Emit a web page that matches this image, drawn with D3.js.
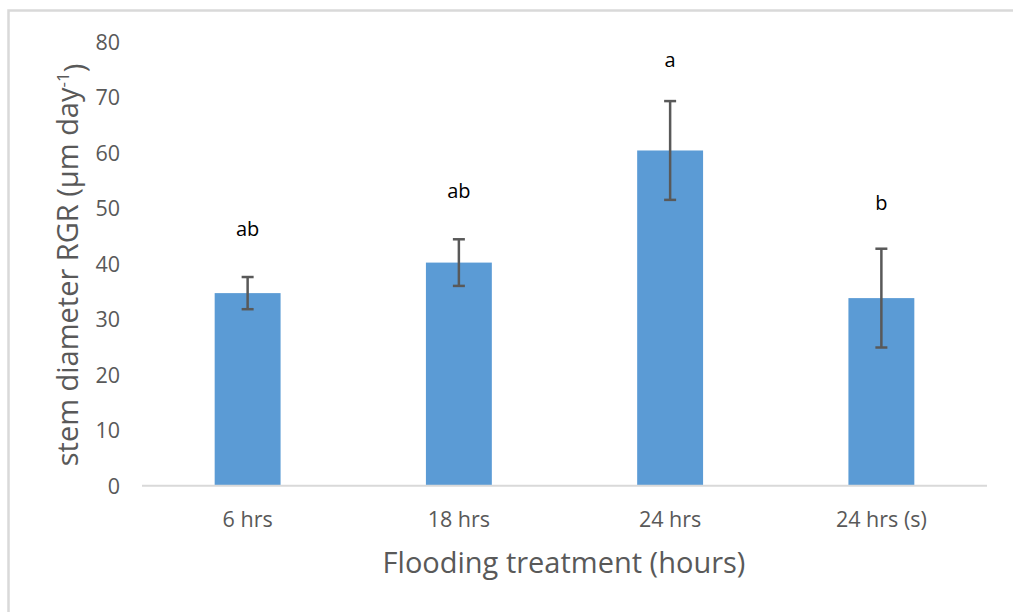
<!DOCTYPE html>
<html>
<head>
<meta charset="utf-8">
<script src="https://cdn.jsdelivr.net/npm/d3@7"></script>
<style>
  html, body { margin: 0; padding: 0; background: #fff; }
  svg { display: block; font-family: "Open Sans", "Noto Sans", sans-serif; }
</style>
</head>
<body>
<svg id="chart" width="1013" height="612"></svg>
<script>
// Stem diameter relative growth rate by flooding treatment
const categories = ["6 hrs", "18 hrs", "24 hrs", "24 hrs (s)"];
const means      = [34.7, 40.2, 60.4, 33.8];
const errors     = [2.9, 4.2, 8.9, 8.9];
const letters    = ["ab", "ab", "a", "b"];
const letterY    = [46.3, 53.1, 76.7, 50.9];
const yTicks     = [0, 10, 20, 30, 40, 50, 60, 70, 80];

const FONT = '"Open Sans", "Noto Sans", sans-serif';
const svg = d3.select("#chart");
const W = 1013, H = 612;

// outer chart frame (open to the right and bottom)
svg.append("rect")
  .attr("x", 8.5).attr("y", 10.5)
  .attr("width", W + 20).attr("height", H + 20)
  .attr("fill", "none").attr("stroke", "#d9d9d9").attr("stroke-width", 2.5);

const plot = { left: 142, right: 987, top: 41.7, bottom: 485.7 };

const x = d3.scaleBand()
  .domain(categories)
  .range([plot.left, plot.right])
  .paddingInner(0.688)
  .paddingOuter(0.344);

const y = d3.scaleLinear()
  .domain([0, 80])
  .range([plot.bottom, plot.top]);

// bars
svg.append("g").selectAll("rect")
  .data(categories)
  .join("rect")
  .attr("x", d => x(d))
  .attr("width", x.bandwidth())
  .attr("y", (d, i) => y(means[i]))
  .attr("height", (d, i) => y(0) - y(means[i]))
  .attr("fill", "#5b9bd5");

// y axis (labels only)
const yAxis = d3.axisLeft(y).tickValues(yTicks).tickSize(0).tickPadding(0);
const gy = svg.append("g")
  .attr("transform", `translate(120,0)`)
  .call(yAxis)
  .attr("font-family", FONT)
  .attr("font-size", null);
gy.select(".domain").remove();
gy.selectAll("text")
  .attr("fill", "#595959")
  .style("font-size", "21.5px")
  .attr("dy", "0.35em");

// x axis
const xAxis = d3.axisBottom(x).tickSize(0).tickPadding(0);
const gx = svg.append("g")
  .attr("transform", `translate(0,${plot.bottom})`)
  .call(xAxis)
  .attr("font-family", FONT)
  .attr("font-size", null);
gx.select(".domain")
  .attr("stroke", "#d9d9d9").attr("stroke-width", 2)
  .attr("d", `M${plot.left},0H${plot.right}`);
gx.selectAll("text")
  .attr("fill", "#595959")
  .style("font-size", "21.5px")
  .attr("y", 34)
  .attr("dy", "0.35em");

// error bars
const eg = svg.append("g").attr("stroke", "#595959").attr("stroke-width", 2.5);
categories.forEach((c, i) => {
  const cx = x(c) + x.bandwidth() / 2;
  const hi = y(means[i] + errors[i]);
  const lo = y(means[i] - errors[i]);
  eg.append("line").attr("x1", cx).attr("x2", cx).attr("y1", hi).attr("y2", lo);
  eg.append("line").attr("x1", cx - 6).attr("x2", cx + 6).attr("y1", hi).attr("y2", hi);
  eg.append("line").attr("x1", cx - 6).attr("x2", cx + 6).attr("y1", lo).attr("y2", lo);
});

// significance letters
svg.append("g").selectAll("text")
  .data(categories)
  .join("text")
  .attr("x", d => x(d) + x.bandwidth() / 2)
  .attr("y", (d, i) => y(letterY[i]))
  .attr("dy", "0.35em")
  .attr("text-anchor", "middle")
  .attr("fill", "#000")
  .style("font-size", "20px")
  .text((d, i) => letters[i]);

// axis titles
svg.append("text")
  .attr("x", 564).attr("y", 563)
  .attr("text-anchor", "middle")
  .attr("dy", "0.35em")
  .attr("fill", "#595959")
  .style("font-size", "29px")
  .text("Flooding treatment (hours)");

const yt = svg.append("text")
  .attr("transform", "translate(68,265) rotate(-90)")
  .attr("text-anchor", "middle")
  .attr("dy", "0.35em")
  .attr("fill", "#595959")
  .style("font-size", "29px");
yt.append("tspan").text("stem diameter RGR (μm day");
yt.append("tspan").attr("dy", "-0.55em").style("font-size", "17px").text("-1");
yt.append("tspan").attr("dy", "0.55em").text(")");
</script>
</body>
</html>
